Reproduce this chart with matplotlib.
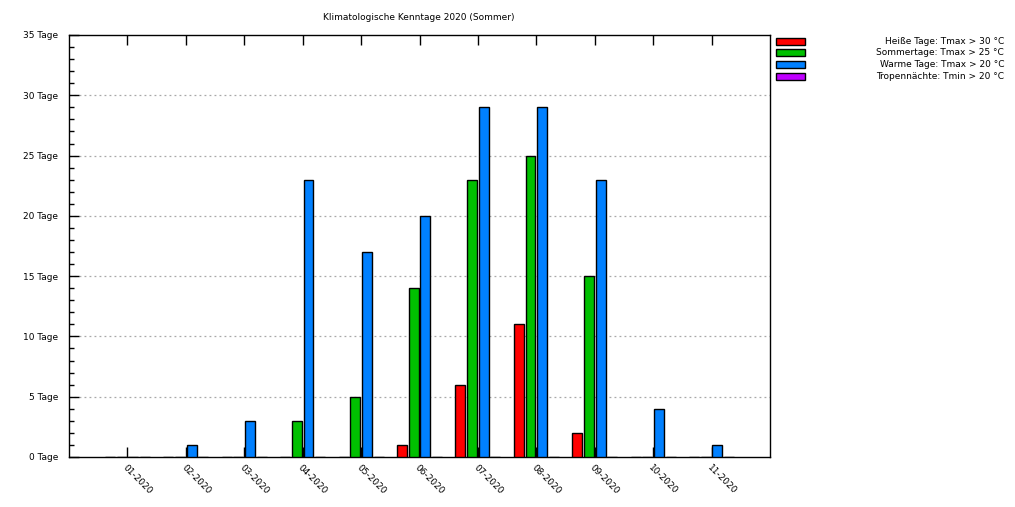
import matplotlib
matplotlib.use("Agg")
import matplotlib.pyplot as plt
from matplotlib.patches import Rectangle
from matplotlib.ticker import MultipleLocator
import numpy as np

plt.rcParams['font.family'] = ['DejaVu Sans']

months = ["01-2020", "02-2020", "03-2020", "04-2020", "05-2020", "06-2020",
          "07-2020", "08-2020", "09-2020", "10-2020", "11-2020"]
heisse = [0, 0, 0, 0, 0, 1, 6, 11, 2, 0, 0]
sommer = [0, 0, 0, 3, 5, 14, 23, 25, 15, 0, 0]
warme = [0, 1, 3, 23, 17, 20, 29, 29, 23, 4, 1]
tropen = [0, 0, 0, 0, 0, 0, 0, 0, 0, 0, 0]

series = [heisse, sommer, warme, tropen]
labels = ["Heiße Tage: Tmax > 30 °C", "Sommertage: Tmax > 25 °C",
          "Warme Tage: Tmax > 20 °C", "Tropennächte: Tmin > 20 °C"]
colors = ["#ff0000", "#00c000", "#0080ff", "#c000ff"]
title = "Klimatologische Kenntage 2020 (Sommer)"

W, H = 1015, 507
fig = plt.figure(figsize=(W / 100, H / 100), dpi=100)
ax = fig.add_axes([69 / W, (H - 457) / H, (770 - 69) / W, (457 - 35) / H])

x = np.arange(1, len(months) + 1)
offsets = [-0.3, -0.1, 0.1, 0.3]
for vals, off, col in zip(series, offsets, colors):
    ax.bar(x + off, vals, width=0.17, color=col, edgecolor="black",
           linewidth=1.0, zorder=3)

ax.set_xlim(0, 12)
ax.set_ylim(0, 35)
ax.yaxis.set_minor_locator(MultipleLocator(1))
yt = np.arange(0, 36, 5)
ax.set_yticks(yt)
ax.set_yticklabels([f"{v} Tage" for v in yt], fontsize=6.5)
ax.set_xticks(x)
ax.set_xticklabels(months, rotation=-45, ha="left", va="top",
                   rotation_mode="anchor", fontsize=6.5)
ax.tick_params(axis="y", which="major", direction="in", length=7, width=1,
               pad=8, left=True, right=False)
ax.tick_params(axis="y", which="minor", direction="in", length=3.5, width=1,
               right=False)
ax.tick_params(axis="x", which="major", direction="in", length=7, width=1,
               pad=4, top=True, bottom=True)
for s in ax.spines.values():
    s.set_linewidth(1.0)

for v in range(5, 35, 5):
    ax.axhline(v, color="#a8a8a8", linestyle=(0, (1.5, 2.5)), linewidth=0.9,
               zorder=1)

fig.text(419 / W, 1 - 17 / H, title, ha="center", va="center", fontsize=6.5)

# legend outside right
for i, (lab, col) in enumerate(zip(labels, colors)):
    yc = 41 + i * 11.7
    fig.patches.append(Rectangle((776 / W, 1 - (yc + 3.5) / H), 29 / W, 7 / H,
                                 facecolor=col, edgecolor="black", linewidth=1.0,
                                 transform=fig.transFigure, figure=fig))
    fig.text(1004 / W, 1 - yc / H, lab, ha="right", va="center", fontsize=6.5)

fig.savefig("out.png", dpi=100)
